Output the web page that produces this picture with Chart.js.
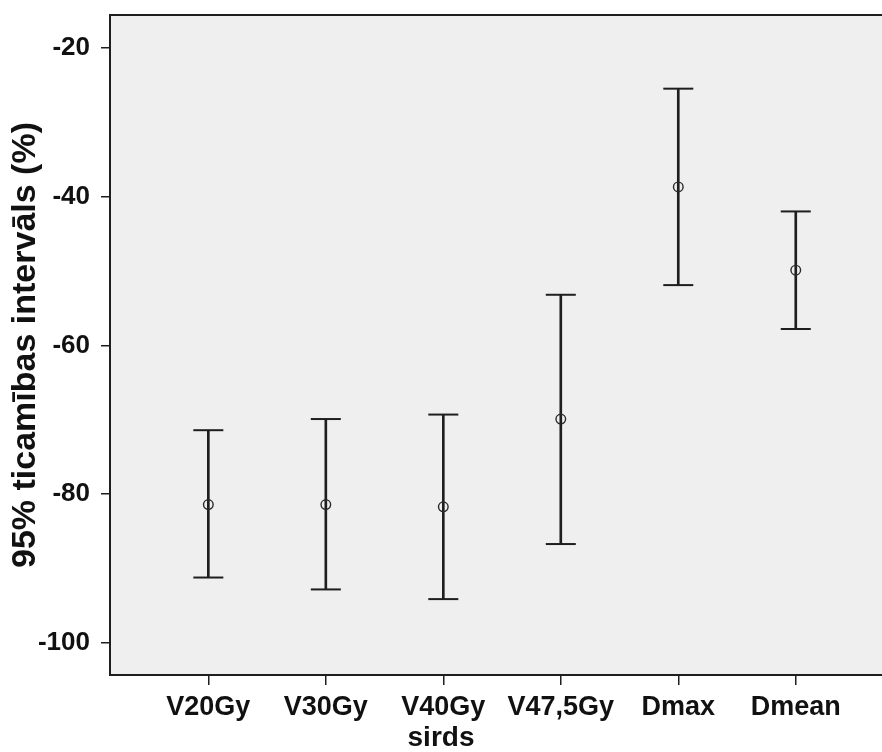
<!DOCTYPE html>
<html>
<head>
<meta charset="utf-8">
<script src="https://cdn.jsdelivr.net/npm/chart.js@4.4.0/dist/chart.umd.min.js"></script>
<style>
  body { margin: 0; background: #fff; overflow: hidden; }
  canvas { display: block; }
</style>
</head>
<body>
<canvas id="myChart" width="882" height="752"></canvas>
<script>
// 95% ticamības intervāli (sirds)
let categories = ['V20Gy', 'V30Gy', 'V40Gy', 'V47,5Gy', 'Dmax', 'Dmean'];
let means = [-81.4, -81.4, -81.7, -69.9, -38.7, -49.9];
let lower = [-91.2, -92.8, -94.1, -86.7, -51.9, -57.8];
let upper = [-71.4, -69.9, -69.3, -53.2, -25.5, -42.0];
let yTicks = [-100, -80, -60, -40, -20];

Chart.defaults.font.family = "'Liberation Sans', Arial, sans-serif";

let lineColor = '#1e1e1e';
let textColor = '#111';

// grey plot background
let plotBackground = {
    id: 'plotBackground',
    beforeDraw(chart) {
        let a = chart.chartArea;
        let c = chart.ctx;
        c.save();
        c.fillStyle = '#efefef';
        c.fillRect(a.left, a.top, a.right - a.left, a.bottom - a.top);
        c.restore();
    }
};

// whisker caps: upper and lower end of every interval
let caps = [];
categories.forEach((c, i) => {
    caps.push({ x: i, y: upper[i] });
    caps.push({ x: i, y: lower[i] });
});

let ctx = document.getElementById("myChart").getContext("2d");
let myChart = new Chart(ctx, {
    type: "bar",
    data: {
        datasets: [
            {
                type: 'scatter',
                label: 'Vidējais',
                data: categories.map((c, i) => ({ x: i, y: means[i] })),
                pointStyle: 'circle',
                pointRadius: 4.8,
                backgroundColor: 'rgba(0,0,0,0)',
                borderColor: '#2a2a2a',
                borderWidth: 1.4,
            },
            {
                type: 'scatter',
                label: 'Robežas',
                data: caps,
                pointStyle: 'line',
                pointRadius: 15,
                borderColor: lineColor,
                borderWidth: 2,
            },
            {
                type: 'bar',
                label: 'Intervāls',
                data: categories.map((c, i) => ({ x: i, y: [lower[i], upper[i]] })),
                backgroundColor: lineColor,
                borderWidth: 0,
                barThickness: 2,
            }
        ]
    },
    options: {
        responsive: false,
        animation: false,
        layout: {
            autoPadding: false,
            padding: { top: 15, left: 0, right: 0, bottom: 0 }
        },
        plugins: {
            legend: { display: false },
            tooltip: { enabled: false },
            title: {
                display: true,
                position: 'bottom',
                text: 'sirds',
                color: textColor,
                padding: 0,
                font: { size: 28, weight: 'bold', lineHeight: 1 }
            }
        },
        scales: {
            x: {
                type: 'linear',
                min: -0.837,
                max: 5.734,
                offset: false,
                afterBuildTicks: (axis) => { axis.ticks = categories.map((c, i) => ({ value: i })); },
                afterFit: (axis) => {
                    axis.height = 49;
                    axis.paddingLeft = 0;
                    axis.paddingRight = 0;
                },
                grid: { offset: false, drawOnChartArea: false, drawTicks: true, tickLength: 10, color: lineColor, lineWidth: 1.5 },
                border: { display: true, color: lineColor, width: 2 },
                ticks: {
                    callback: (v) => categories[v],
                    autoSkip: false,
                    maxRotation: 0,
                    padding: 6,
                    color: textColor,
                    font: { size: 27, weight: 'bold' }
                }
            },
            x2: {
                type: 'linear',
                position: 'top',
                afterFit: (axis) => {
                    axis.height = 0;
                    axis.paddingLeft = 0;
                    axis.paddingRight = 0;
                },
                grid: { display: false },
                border: { display: true, color: lineColor, width: 2 },
                ticks: { display: false }
            },
            y: {
                min: -104.3,
                max: -15.6,
                afterBuildTicks: (axis) => { axis.ticks = yTicks.map(v => ({ value: v })); },
                afterFit: (axis) => {
                    axis.width = 110;
                    axis.paddingTop = 0;
                    axis.paddingBottom = 0;
                },
                grid: { drawOnChartArea: false, drawTicks: true, tickLength: 9, color: lineColor, lineWidth: 1.5 },
                border: { display: true, color: lineColor, width: 2 },
                ticks: {
                    padding: 11,
                    color: textColor,
                    font: { size: 26, weight: 'bold' }
                },
                title: {
                    display: true,
                    text: '95% ticamības intervāls (%)',
                    color: textColor,
                    padding: { top: 5, bottom: 0 },
                    font: { size: 34, weight: 'bold' }
                }
            }
        }
    },
    plugins: [plotBackground]
});
</script>
</body>
</html>
